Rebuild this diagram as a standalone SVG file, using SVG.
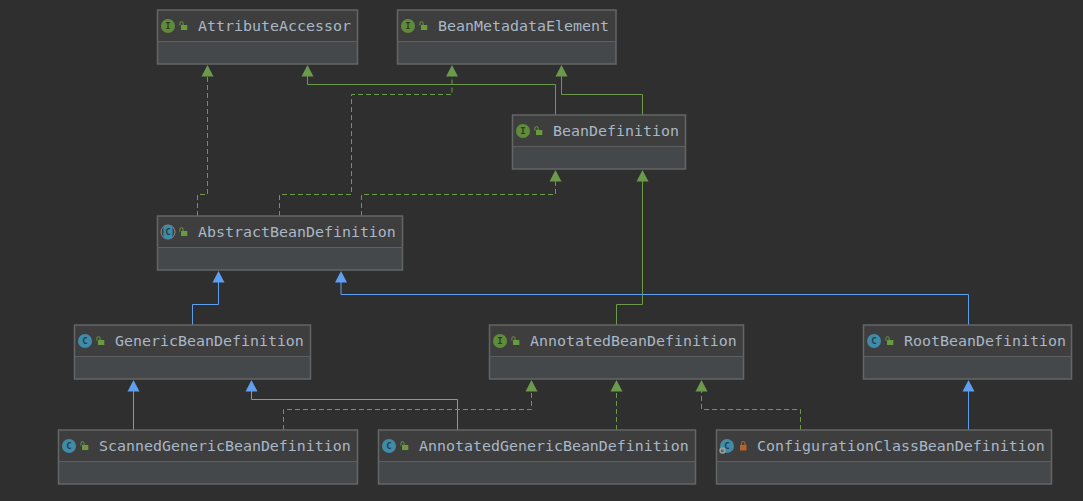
<svg xmlns="http://www.w3.org/2000/svg" width="1083" height="501" viewBox="0 0 1083 501">
  <style>
    .head { fill: #3e3e3f; }
    .body { fill: #45484a; }
    .frame { fill: none; stroke: #646565; stroke-width: 1.5; }
    .rule { stroke: #5e6060; stroke-width: 1; }
    .name { font-family: "DejaVu Sans Mono", "Liberation Mono", monospace; font-size: 14.95px; fill: #a9b7c6; }
    .badge { font-family: "DejaVu Sans Mono", monospace; font-size: 9px; font-weight: bold; text-anchor: middle; }
    .i-dot { fill: #5e8c3a; }
    .i-txt { fill: #2f3a25; }
    .c-dot { fill: #3f8ba8; }
    .c-txt { fill: #23404d; }
    .real { fill: none; stroke: #6a9a4a; stroke-width: 1; }
    .impl { fill: none; stroke: #6a9a4a; stroke-width: 1; stroke-dasharray: 5 3; }
    .ext { fill: none; stroke: #5f9ff0; stroke-width: 1; }
  </style>
  <defs>
    <g id="open-lock">
      <rect x="1.5" y="-1" width="6.3" height="5" fill="#6a9a3e"/>
      <path d="M0.4 -0.5 V-2.5 Q0.4 -4.4 2 -4.4 Q3.6 -4.4 3.6 -2.5 V-1" fill="none" stroke="#6a9a3e" stroke-width="1"/>
    </g>
    <polygon id="tip-green" points="0,0 6,11.5 -6,11.5" fill="#6a9a4a"/>
    <polygon id="tip-blue" points="0,0 6,11.5 -6,11.5" fill="#5f9ff0"/>
  </defs>

  <rect width="1083" height="501" fill="#2f2f2f"/>

  <g id="connectors">
    <path class="impl" d="M197.5 216V194.5H207.5V76"/>
    <path class="impl" d="M279.5 216V194.5H351.5V94.5H452V76"/>
    <path class="impl" d="M361.5 216V194.5H555.5V180"/>
    <path class="real" d="M555.5 115V84.5H307.5V76"/>
    <path class="real" d="M642.5 115V94.5H561.5V76"/>
    <path class="real" d="M616.5 325V304.5H642.5V180"/>
    <path class="ext" d="M192.5 325V304.5H218.5V282"/>
    <path class="ext" d="M968.5 325V294.5H341V282"/>
    <path class="ext" d="M133.5 430V390"/>
    <path class="ext" d="M457.5 430V399.5H251.5V390"/>
    <path class="impl" d="M283.5 430V409.5H531.5V390"/>
    <path class="impl" d="M616.5 430V390"/>
    <path class="impl" d="M800.5 430V409.5H701.5V390"/>
    <path class="ext" d="M968.5 430V390"/>
    <use href="#tip-green" x="207.5" y="65"/>
    <use href="#tip-green" x="307.5" y="65"/>
    <use href="#tip-green" x="452" y="65"/>
    <use href="#tip-green" x="561.5" y="65"/>
    <use href="#tip-green" x="555.5" y="170"/>
    <use href="#tip-green" x="642.5" y="170"/>
    <use href="#tip-blue" x="218.5" y="271"/>
    <use href="#tip-blue" x="341" y="271"/>
    <use href="#tip-blue" x="133.5" y="380"/>
    <use href="#tip-blue" x="251.5" y="380"/>
    <use href="#tip-green" x="531.5" y="380"/>
    <use href="#tip-green" x="616.5" y="380"/>
    <use href="#tip-green" x="701.5" y="380"/>
    <use href="#tip-blue" x="968.5" y="380"/>
  </g>

  <g id="attribute-accessor">
    <rect class="head" x="157.5" y="10" width="200" height="31"/>
    <rect class="body" x="157.5" y="41" width="200" height="23"/>
    <rect class="frame" x="157.5" y="10" width="200" height="54"/>
    <line class="rule" x1="157.5" y1="41.5" x2="357.5" y2="41.5"/>
    <circle class="i-dot" cx="168" cy="26" r="7"/>
    <text class="badge i-txt" x="168" y="29">I</text>
    <use href="#open-lock" x="179.5" y="26"/>
    <text class="name" x="198" y="31">AttributeAccessor</text>
  </g>

  <g id="bean-metadata-element">
    <rect class="head" x="397.5" y="10" width="218.5" height="31"/>
    <rect class="body" x="397.5" y="41" width="218.5" height="23"/>
    <rect class="frame" x="397.5" y="10" width="218.5" height="54"/>
    <line class="rule" x1="397.5" y1="41.5" x2="616" y2="41.5"/>
    <circle class="i-dot" cx="408" cy="26" r="7"/>
    <text class="badge i-txt" x="408" y="29">I</text>
    <use href="#open-lock" x="419.5" y="26"/>
    <text class="name" x="438" y="31">BeanMetadataElement</text>
  </g>

  <g id="bean-definition">
    <rect class="head" x="512.5" y="115" width="173" height="31"/>
    <rect class="body" x="512.5" y="146" width="173" height="23"/>
    <rect class="frame" x="512.5" y="115" width="173" height="54"/>
    <line class="rule" x1="512.5" y1="146.5" x2="685.5" y2="146.5"/>
    <circle class="i-dot" cx="523" cy="131" r="7"/>
    <text class="badge i-txt" x="523" y="134">I</text>
    <use href="#open-lock" x="534.5" y="131"/>
    <text class="name" x="553" y="136">BeanDefinition</text>
  </g>

  <g id="abstract-bean-definition">
    <rect class="head" x="157.5" y="216" width="245" height="31"/>
    <rect class="body" x="157.5" y="247" width="245" height="23"/>
    <rect class="frame" x="157.5" y="216" width="245" height="54"/>
    <line class="rule" x1="157.5" y1="247.5" x2="402.5" y2="247.5"/>
    <circle cx="168" cy="232" r="7" fill="#3e3e3f" stroke="#8a8d8f" stroke-width="1"/>
    <rect x="163.5" y="225" width="9" height="14" rx="3" class="c-dot"/>
    <text class="badge c-txt" x="168" y="235">C</text>
    <use href="#open-lock" x="179.5" y="232"/>
    <text class="name" x="198" y="237">AbstractBeanDefinition</text>
  </g>

  <g id="generic-bean-definition">
    <rect class="head" x="74.5" y="325" width="236" height="31"/>
    <rect class="body" x="74.5" y="356" width="236" height="23"/>
    <rect class="frame" x="74.5" y="325" width="236" height="54"/>
    <line class="rule" x1="74.5" y1="356.5" x2="310.5" y2="356.5"/>
    <circle class="c-dot" cx="85" cy="341" r="7"/>
    <text class="badge c-txt" x="85" y="344">C</text>
    <use href="#open-lock" x="96.5" y="341"/>
    <text class="name" x="115" y="346">GenericBeanDefinition</text>
  </g>

  <g id="annotated-bean-definition">
    <rect class="head" x="489.5" y="325" width="254" height="31"/>
    <rect class="body" x="489.5" y="356" width="254" height="23"/>
    <rect class="frame" x="489.5" y="325" width="254" height="54"/>
    <line class="rule" x1="489.5" y1="356.5" x2="743.5" y2="356.5"/>
    <circle class="i-dot" cx="500" cy="341" r="7"/>
    <text class="badge i-txt" x="500" y="344">I</text>
    <use href="#open-lock" x="511.5" y="341"/>
    <text class="name" x="530" y="346">AnnotatedBeanDefinition</text>
  </g>

  <g id="root-bean-definition">
    <rect class="head" x="863.5" y="325" width="208" height="31"/>
    <rect class="body" x="863.5" y="356" width="208" height="23"/>
    <rect class="frame" x="863.5" y="325" width="208" height="54"/>
    <line class="rule" x1="863.5" y1="356.5" x2="1071.5" y2="356.5"/>
    <circle class="c-dot" cx="874" cy="341" r="7"/>
    <text class="badge c-txt" x="874" y="344">C</text>
    <use href="#open-lock" x="885.5" y="341"/>
    <text class="name" x="904" y="346">RootBeanDefinition</text>
  </g>

  <g id="scanned-generic-bean-definition">
    <rect class="head" x="58.5" y="430" width="299" height="31"/>
    <rect class="body" x="58.5" y="461" width="299" height="23"/>
    <rect class="frame" x="58.5" y="430" width="299" height="54"/>
    <line class="rule" x1="58.5" y1="461.5" x2="357.5" y2="461.5"/>
    <circle class="c-dot" cx="69" cy="446" r="7"/>
    <text class="badge c-txt" x="69" y="449">C</text>
    <use href="#open-lock" x="80.5" y="446"/>
    <text class="name" x="99" y="451">ScannedGenericBeanDefinition</text>
  </g>

  <g id="annotated-generic-bean-definition">
    <rect class="head" x="378.5" y="430" width="317" height="31"/>
    <rect class="body" x="378.5" y="461" width="317" height="23"/>
    <rect class="frame" x="378.5" y="430" width="317" height="54"/>
    <line class="rule" x1="378.5" y1="461.5" x2="695.5" y2="461.5"/>
    <circle class="c-dot" cx="389" cy="446" r="7"/>
    <text class="badge c-txt" x="389" y="449">C</text>
    <use href="#open-lock" x="400.5" y="446"/>
    <text class="name" x="419" y="451">AnnotatedGenericBeanDefinition</text>
  </g>

  <g id="configuration-class-bean-definition">
    <rect class="head" x="716.5" y="430" width="335" height="31"/>
    <rect class="body" x="716.5" y="461" width="335" height="23"/>
    <rect class="frame" x="716.5" y="430" width="335" height="54"/>
    <line class="rule" x1="716.5" y1="461.5" x2="1051.5" y2="461.5"/>
    <circle class="c-dot" cx="727" cy="446" r="7"/>
    <text class="badge c-txt" x="727" y="449">C</text>
    <circle cx="722.5" cy="450.5" r="2.4" fill="none" stroke="#9a9da0" stroke-width="1.6"/>
    <rect x="740" y="445" width="6.5" height="5.5" fill="#b8622c"/>
    <path d="M741.5 445V443.5Q741.5 441.5 743.2 441.5Q745 441.5 745 443.5V445" fill="none" stroke="#b8622c" stroke-width="1.1"/>
    <text class="name" x="757" y="451">ConfigurationClassBeanDefinition</text>
  </g>
</svg>
